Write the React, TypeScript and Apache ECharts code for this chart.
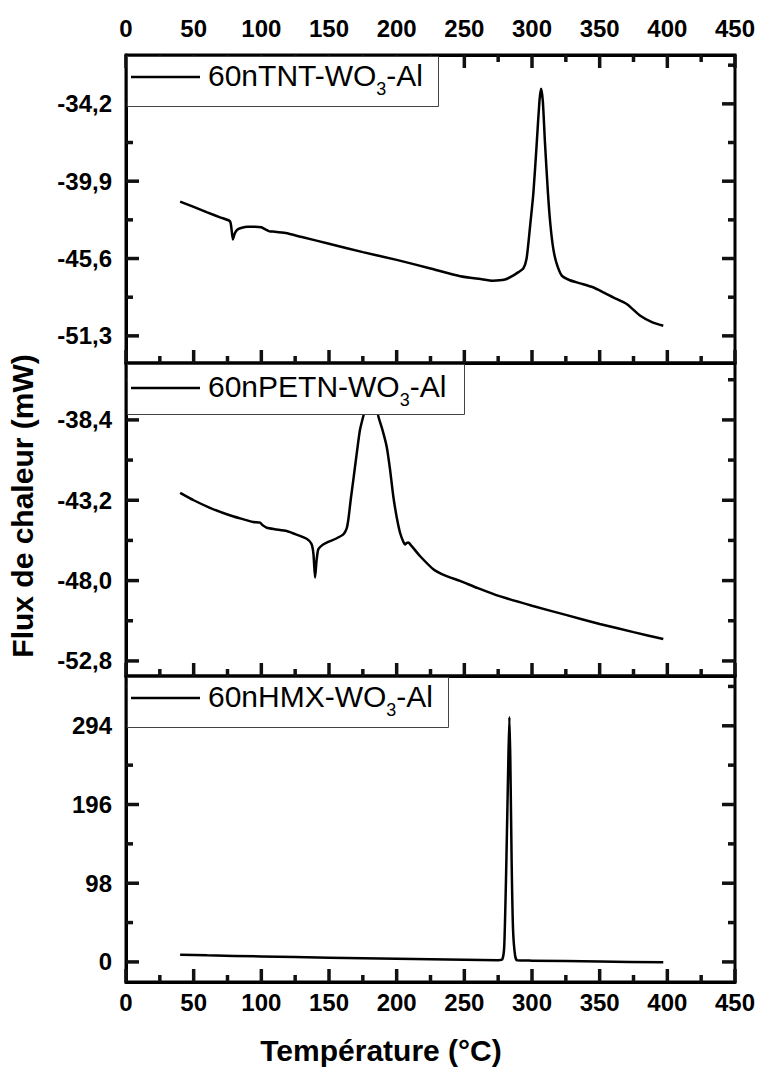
import React, { useEffect, useRef } from "react";
import * as echarts from "echarts";

const FONT = "'Liberation Sans', Arial, Helvetica, sans-serif";

// ---- data ----
const tntTemp = [40, 50, 60, 70, 76.8, 77.8, 79, 80.2, 82, 85, 90, 95, 100, 103, 106, 110, 118, 130, 150, 175, 200, 225, 247, 262, 271, 280, 286, 290, 293.5, 296, 298.5, 301, 303.5, 305.5, 306.7, 308, 309.6, 311.8, 313.5, 315.6, 318, 322, 328, 335.5, 345, 352, 360, 370, 380, 389, 397];
const tntFlux = [-41.4, -41.8, -42.2, -42.58, -42.85, -43.3, -44.2, -43.8, -43.5, -43.35, -43.25, -43.25, -43.3, -43.45, -43.6, -43.62, -43.72, -44.02, -44.51, -45.13, -45.7, -46.33, -46.9, -47.11, -47.23, -47.15, -46.86, -46.6, -46.35, -45.6, -43.3, -40.8, -37.1, -34.0, -33.08, -34.0, -37.1, -40.8, -43.0, -44.8, -45.9, -46.86, -47.2, -47.43, -47.72, -48.05, -48.46, -48.95, -49.82, -50.3, -50.55];

const petnTemp = [40, 50, 62, 75, 85, 94, 99, 101, 104, 110, 118.7, 126, 133.5, 137, 138.5, 139.7, 140.8, 142.1, 145, 148.3, 155, 160.6, 163, 164.3, 166, 168, 170.5, 172.9, 175.9, 178, 182, 185, 186.5, 189.5, 192.6, 195, 197.5, 200, 202.5, 205, 206.2, 207.5, 208.6, 211.1, 217.2, 227.1, 236, 246.8, 260, 276, 300, 325, 350, 375, 397];
const petnFlux = [-42.76, -43.2, -43.65, -44.05, -44.3, -44.5, -44.54, -44.7, -44.84, -44.93, -45.04, -45.25, -45.5, -45.8, -46.4, -47.82, -46.8, -46.13, -45.88, -45.73, -45.5, -45.24, -44.9, -44.35, -43.2, -41.97, -40.4, -38.99, -38.0, -37.4, -37.1, -37.5, -38.2, -39.0, -39.99, -41.3, -42.96, -44.2, -45.14, -45.7, -45.84, -45.75, -45.73, -45.94, -46.53, -47.32, -47.7, -48.02, -48.45, -48.93, -49.5, -50.05, -50.59, -51.08, -51.49];

const hmxTemp = [40, 60, 100, 150, 200, 250, 275, 278, 279.5, 281, 282.5, 283.3, 284, 285, 286, 287.5, 289, 300, 350, 397];
const hmxFlux = [9, 8.2, 6.8, 5.3, 4, 2.8, 2.2, 3, 20, 120, 250, 305, 250, 120, 40, 8, 2, 1.6, 0.5, -0.5];

// tick labels
const tempTicks = [0, 50, 100, 150, 200, 250, 300, 350, 400, 450];
const tntTicks = [-34.2, -39.9, -45.6, -51.3];
const petnTicks = [-38.4, -43.2, -48.0, -52.8];
const hmxTicks = [294, 196, 98, 0];

const panelNames = ["60nTNT-WO", "60nPETN-WO", "60nHMX-WO"];
const xTitle = "Température (°C)";
const yTitle = "Flux de chaleur (mW)";

// ---- layout ----
const LEFT = 126;
const RIGHT_EDGE = 735;
const X_MIN = 0;
const X_MAX = 450;
const X_STEP = 50;
const MAJOR_LEN = 13;
const MINOR_LEN = 7;
const TICK_COLOR = "#111111";
const PANELS = [
  { top: 55, height: 308, min: -53.3, max: -30.6, ticks: tntTicks, dec: true },
  { top: 363, height: 313, min: -53.7, max: -35.0, ticks: petnTicks, dec: true },
  { top: 676, height: 306, min: -25, max: 356, ticks: hmxTicks, dec: false },
];
const LEGENDS = [
  { w: 311, lineY: 77, textY: 75 },
  { w: 337, lineY: 388, textY: 386 },
  { w: 321, lineY: 698, textY: 696 },
];

function minorValues(ticks: number[], min: number, max: number) {
  const s = Math.abs(ticks[1] - ticks[0]);
  const out: number[] = [];
  for (let k = -30; k <= 30; k++) {
    const v = +(ticks[0] + (k + 0.5) * s).toFixed(4);
    if (v >= min && v <= max) out.push(v);
  }
  return out;
}

const LABEL_STYLE = { color: "#000", fontSize: 24, fontWeight: "bold", fontFamily: FONT };

// inward tick marks, placed through the axes' own scales
function tickSeries(xIdx: number, yIdx: number, side: string, len: number, pts: number[][]) {
  return {
    type: "custom",
    xAxisIndex: xIdx,
    yAxisIndex: yIdx,
    clip: false,
    data: pts,
    renderItem: (_p: any, api: any) => {
      const c = api.coord([api.value(0), api.value(1)]);
      const d =
        side === "bottom" ? [0, -len] : side === "top" ? [0, len] : side === "left" ? [len, 0] : [-len, 0];
      return {
        type: "line",
        shape: { x1: c[0], y1: c[1], x2: c[0] + d[0], y2: c[1] + d[1] },
        style: { stroke: TICK_COLOR, lineWidth: 3.5 },
      };
    },
  };
}

// y tick labels, placed through the axes' own scales
function yLabelSeries(xIdx: number, yIdx: number, vals: number[], fmt: (v: number) => string) {
  return {
    type: "custom",
    xAxisIndex: xIdx,
    yAxisIndex: yIdx,
    clip: false,
    data: vals.map((v) => [X_MIN, v]),
    renderItem: (_p: any, api: any) => {
      const c = api.coord([api.value(0), api.value(1)]);
      return {
        type: "text",
        x: c[0] - 14,
        y: c[1],
        style: {
          text: fmt(api.value(1)),
          align: "right",
          textAlign: "right",
          verticalAlign: "middle",
          fontSize: 24,
          fontWeight: "bold",
          fontFamily: FONT,
          fill: "#000",
        },
      };
    },
  };
}

export default function App() {
  const ref = useRef<HTMLDivElement>(null);
  useEffect(() => {
    if (!ref.current) return;
    const chart = echarts.init(ref.current, null, { renderer: "svg" });

    const grids: any[] = [];
    const xAxes: any[] = [];
    const yAxes: any[] = [];
    const series: any[] = [];
    const graphics: any[] = [];

    const datasets = [
      [tntTemp, tntFlux],
      [petnTemp, petnFlux],
      [hmxTemp, hmxFlux],
    ];

    const xMajor: number[] = [];
    const xMinor: number[] = [];
    tempTicks.forEach((t, k) => {
      xMajor.push(t);
      if (k < tempTicks.length - 1) xMinor.push((t + tempTicks[k + 1]) / 2);
    });

    PANELS.forEach((p, i) => {
      grids.push({
        left: LEFT,
        width: RIGHT_EDGE - LEFT,
        top: p.top,
        height: p.height,
        show: true,
        borderColor: "#000",
        borderWidth: 3,
        backgroundColor: "transparent",
      });
      const mainX = xAxes.length;
      xAxes.push({
        gridIndex: i,
        type: "value",
        position: "bottom",
        min: X_MIN,
        max: X_MAX,
        interval: X_STEP,
        axisLine: { show: true, onZero: false, lineStyle: { color: "#000", width: 3 } },
        axisTick: { show: false },
        axisLabel: { show: i === 2, margin: 8, ...LABEL_STYLE },
        splitLine: { show: false },
      });
      if (i === 0) {
        xAxes.push({
          gridIndex: i,
          type: "value",
          position: "top",
          min: X_MIN,
          max: X_MAX,
          interval: X_STEP,
          axisLine: { show: true, onZero: false, lineStyle: { color: "#000", width: 3 } },
          axisTick: { show: false },
          axisLabel: { show: true, margin: 15, ...LABEL_STYLE },
          splitLine: { show: false },
        });
      }
      const mainY = yAxes.length;
      yAxes.push({
        gridIndex: i,
        type: "value",
        position: "left",
        min: p.min,
        max: p.max,
        axisLine: { show: true, onZero: false, lineStyle: { color: "#000", width: 3 } },
        axisTick: { show: false },
        axisLabel: { show: false },
        splitLine: { show: false },
      });

      const [tx, fy] = datasets[i];
      series.push({
        type: "line",
        xAxisIndex: mainX,
        yAxisIndex: mainY,
        data: tx.map((t, k) => [t, fy[k]]),
        showSymbol: false,
        smooth: 0.2,
        lineStyle: { color: "#000", width: 2.5 },
      });

      const minors = minorValues(p.ticks, p.min, p.max);
      const fmt = (v: number) => (p.dec ? v.toFixed(1).replace(".", ",") : String(Math.round(v)));

      series.push(tickSeries(mainX, mainY, "bottom", MAJOR_LEN, xMajor.map((v) => [v, p.min])));
      series.push(tickSeries(mainX, mainY, "bottom", MINOR_LEN, xMinor.map((v) => [v, p.min])));
      if (i === 0) {
        series.push(tickSeries(mainX, mainY, "top", MAJOR_LEN, xMajor.map((v) => [v, p.max])));
        series.push(tickSeries(mainX, mainY, "top", MINOR_LEN, xMinor.map((v) => [v, p.max])));
      }
      series.push(tickSeries(mainX, mainY, "left", MAJOR_LEN, p.ticks.map((v) => [X_MIN, v])));
      series.push(tickSeries(mainX, mainY, "left", MINOR_LEN, minors.map((v) => [X_MIN, v])));
      series.push(tickSeries(mainX, mainY, "right", MAJOR_LEN, p.ticks.map((v) => [X_MAX, v])));
      series.push(tickSeries(mainX, mainY, "right", MINOR_LEN, minors.map((v) => [X_MAX, v])));
      series.push(yLabelSeries(mainX, mainY, p.ticks, fmt));

      const lg = LEGENDS[i];
      graphics.push({
        type: "rect",
        z: 5,
        shape: { x: LEFT + 1.5, y: p.top + 1.5, width: lg.w, height: 50 },
        style: { fill: "#fff", stroke: "#444", lineWidth: 1 },
      });
      graphics.push({
        type: "line",
        z: 6,
        shape: { x1: LEFT + 5, y1: lg.lineY, x2: 200, y2: lg.lineY },
        style: { stroke: "#000", lineWidth: 2.5 },
      });
      graphics.push({
        type: "text",
        z: 6,
        x: 208,
        y: lg.textY,
        style: {
          text: `{a|${panelNames[i]}}{s|3}{a|-Al}`,
          verticalAlign: "middle",
          textAlign: "left",
          rich: {
            a: { fontSize: 30, lineHeight: 46, fontFamily: FONT, fill: "#000", verticalAlign: "middle" },
            s: { fontSize: 18, lineHeight: 18, fontFamily: FONT, fill: "#000", verticalAlign: "bottom" },
          },
        },
      });
    });

    graphics.push({
      type: "text",
      x: 381,
      y: 1050,
      style: {
        text: xTitle,
        textAlign: "center",
        verticalAlign: "middle",
        fontSize: 30,
        fontWeight: "bold",
        fontFamily: FONT,
        fill: "#000",
      },
    });
    graphics.push({
      type: "text",
      x: 22,
      y: 506,
      rotation: Math.PI / 2,
      style: {
        text: yTitle,
        textAlign: "center",
        verticalAlign: "middle",
        fontSize: 30,
        fontWeight: "bold",
        fontFamily: FONT,
        fill: "#000",
      },
    });

    chart.setOption({
      animation: false,
      backgroundColor: "#fff",
      grid: grids,
      xAxis: xAxes,
      yAxis: yAxes,
      series,
      graphic: graphics,
    });
    return () => chart.dispose();
  }, []);

  return (
    <div
      ref={ref}
      style={{ position: "absolute", left: 0, top: 0, width: 759, height: 1074 }}
    />
  );
}
